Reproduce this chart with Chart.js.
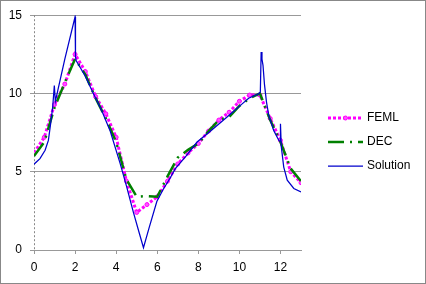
<!DOCTYPE html>
<html>
<head>
<meta charset="utf-8">
<script src="https://cdn.jsdelivr.net/npm/chart.js@4.4.0/dist/chart.umd.min.js"></script>
<style>
html, body { margin: 0; padding: 0; background: #fff; }
#wrap { width: 426px; height: 284px; }
</style>
</head>
<body>
<div id="wrap"><canvas id="chart" width="426" height="284"></canvas></div>
<script>
// FEML and DEC are sampled every 0.5
const nodeX = [0, 0.5, 1, 1.5, 2, 2.5, 3, 3.5, 4, 4.5, 5, 5.5, 6, 6.5, 7, 7.5, 8, 8.5, 9, 9.5, 10, 10.5, 11, 11.5, 12, 12.5, 13];
const femlY = [6.2, 7.2, 9.3, 10.6, 12.5, 11.4, 9.8, 8.7, 7.2, 4.4, 2.4, 2.9, 3.4, 4.4, 5.5, 6.2, 6.8, 7.6, 8.3, 8.8, 9.5, 9.9, 9.9, 8.4, 7.0, 5.0, 4.3];
const decY = [6.0, 6.9, 9.1, 10.7, 12.2, 11.2, 9.7, 8.4, 6.9, 4.5, 3.4, 3.45, 3.4, 4.7, 5.9, 6.4, 6.8, 7.6, 8.3, 8.5, 9.2, 9.7, 10.0, 8.3, 6.9, 5.2, 4.4];

// exact solution, finer sampling
const solX = [0, 0.29, 0.54, 0.7, 0.81, 0.91, 0.99, 1.04, 1.5, 2.0, 2.02, 2.05, 2.5, 2.89, 3.3, 3.71, 4.2, 4.5, 4.84, 5.1, 5.33, 5.6, 5.98, 6.3, 6.63, 6.88, 7.4, 7.94, 8.6, 9.4, 10.05, 10.45, 10.94, 11.02, 11.06, 11.1, 11.15, 11.22, 11.32, 11.43, 11.67, 11.92, 11.98, 12.0, 12.04, 12.16, 12.33, 12.65, 13.0];
const solY = [5.48, 5.84, 6.37, 7.0, 8.07, 9.13, 10.5, 9.5, 12.2, 14.9, 12.35, 12.1, 11.1, 10.0, 8.9, 7.6, 5.5, 4.1, 2.4, 1.2, 0.15, 1.4, 3.1, 3.9, 4.6, 5.2, 6.0, 6.9, 7.6, 8.5, 9.24, 9.7, 9.98, 10.1, 12.65, 12.2, 11.8, 10.6, 9.45, 8.6, 7.64, 7.0, 6.95, 8.07, 6.6, 5.3, 4.46, 3.93, 3.71];

const yTicks = [0, 5, 10, 15];
const xTicks = [0, 2, 4, 6, 8, 10, 12];

const seriesNames = ['FEML', 'DEC', 'Solution'];
const colors = ['#ff00ff', '#008000', '#0000cc'];

function pts(xs, ys) {
    return xs.map((x, i) => ({ x: x, y: ys[i] }));
}

const frame = {
    id: 'frame',
    beforeDraw(chart) {
        const c = chart.ctx;
        c.save();
        c.fillStyle = '#fff';
        c.fillRect(0, 0, chart.width, chart.height);
        c.strokeStyle = '#888';
        c.lineWidth = 1;
        c.strokeRect(0.5, 0.5, chart.width - 1, chart.height - 1);
        c.restore();
    },
    // dashed vertical axis at x = 0
    beforeDatasetsDraw(chart) {
        const c = chart.ctx;
        const a = chart.chartArea;
        const x = Math.round(chart.scales.x.getPixelForValue(0)) + 0.5;
        c.save();
        c.strokeStyle = '#888';
        c.lineWidth = 1;
        c.setLineDash([2, 2]);
        c.beginPath();
        c.moveTo(x, a.top);
        c.lineTo(x, a.bottom);
        c.stroke();
        c.restore();
    }
};

// legend drawn by hand so the line styles match
const sideLegend = {
    id: 'sideLegend',
    afterDraw(chart) {
        const c = chart.ctx;
        const rows = [118, 142, 166];
        c.save();
        chart.data.datasets.forEach(function(ds, i) {
            const y = rows[i];
            c.beginPath();
            c.strokeStyle = ds.borderColor;
            c.lineWidth = ds.borderWidth;
            c.setLineDash(ds.borderDash || []);
            c.moveTo(328, y);
            c.lineTo(363, y);
            c.stroke();
            if (ds.pointRadius > 0) {
                c.setLineDash([]);
                c.beginPath();
                c.fillStyle = ds.pointBackgroundColor;
                c.strokeStyle = ds.pointBorderColor;
                c.lineWidth = 1;
                c.arc(345.5, y, ds.pointRadius, 0, Math.PI * 2);
                c.fill();
                c.stroke();
            }
            c.fillStyle = '#000';
            c.font = '12px "Liberation Sans", Arial, sans-serif';
            c.textBaseline = 'middle';
            c.textAlign = 'left';
            c.fillText(ds.label, 367, y);
        });
        c.restore();
    }
};

const ctx = document.getElementById('chart');
new Chart(ctx.getContext('2d'), {
    type: 'scatter',
    data: {
        datasets: [{
            label: seriesNames[0],
            data: pts(nodeX, femlY),
            showLine: true,
            borderColor: colors[0],
            borderWidth: 3,
            borderDash: [3, 2],
            pointRadius: 2,
            pointBackgroundColor: '#ff55ff',
            pointBorderColor: colors[0],
            pointBorderWidth: 1,
            tension: 0,
            order: 2
        }, {
            label: seriesNames[1],
            data: pts(nodeX, decY),
            showLine: true,
            borderColor: colors[1],
            borderWidth: 2.5,
            borderDash: [16, 6, 2, 6],
            pointRadius: 0,
            tension: 0,
            order: 1
        }, {
            label: seriesNames[2],
            data: pts(solX, solY),
            showLine: true,
            borderColor: colors[2],
            borderWidth: 1.25,
            pointRadius: 0,
            tension: 0,
            order: 0
        }]
    },
    options: {
        responsive: false,
        animation: false,
        devicePixelRatio: 1,
        layout: { padding: { left: 0, top: 15, right: 125, bottom: 0 } },
        plugins: {
            legend: { display: false },
            tooltip: { enabled: false }
        },
        scales: {
            x: {
                type: 'linear',
                min: 0,
                max: 13,
                afterFit: function(scale) { scale.height = 34; },
                afterBuildTicks: function(scale) { scale.ticks = xTicks.map(v => ({ value: v })); },
                ticks: {
                    padding: 6,
                    color: '#000',
                    font: { family: '"Liberation Sans", Arial, sans-serif', size: 12 }
                },
                grid: { drawOnChartArea: false, drawTicks: true, tickLength: 4, color: '#999' },
                border: { display: true, color: '#999' }
            },
            y: {
                type: 'linear',
                min: 0,
                max: 15,
                afterFit: function(scale) { scale.width = 34; },
                afterBuildTicks: function(scale) { scale.ticks = yTicks.map(v => ({ value: v })); },
                ticks: {
                    padding: 8,
                    color: '#000',
                    font: { family: '"Liberation Sans", Arial, sans-serif', size: 12 }
                },
                grid: { color: '#999', tickLength: 4, drawTicks: true },
                border: { display: false }
            }
        }
    },
    plugins: [frame, sideLegend]
});
</script>
</body>
</html>
